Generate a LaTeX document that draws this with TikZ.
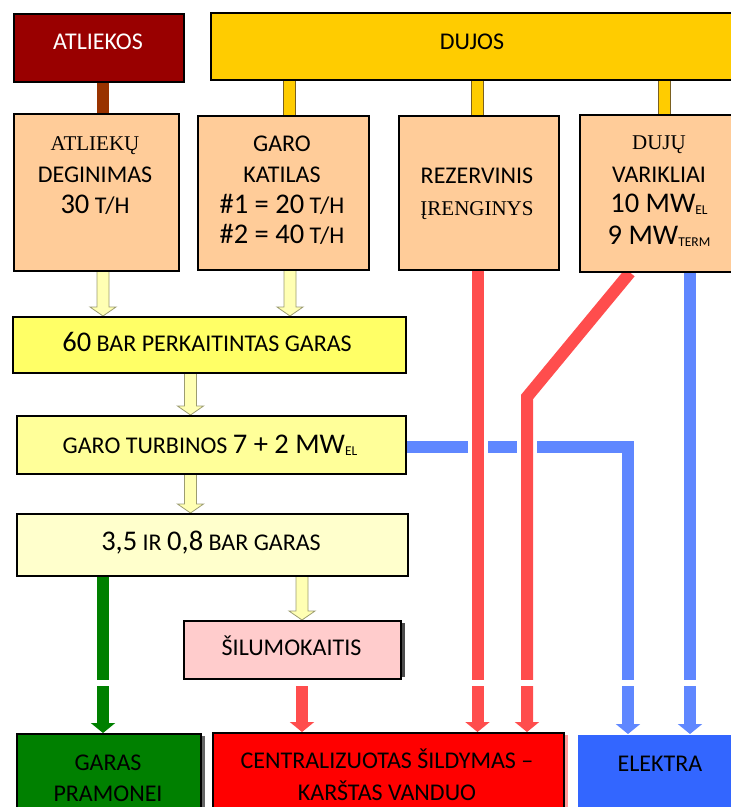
\documentclass[tikz,border=0pt]{standalone}
\usepackage{fontspec}
\setmainfont{Carlito}
\newfontfamily\serifw{Liberation Serif}
\usetikzlibrary{arrows.meta,calc}
\pgfdeclarelayer{bg}
\pgfsetlayers{bg,main}
\definecolor{atlred}{HTML}{990000}
\definecolor{brownc}{HTML}{993300}
\definecolor{gold}{HTML}{FFCC00}
\definecolor{goldedge}{HTML}{7A6020}
\definecolor{peach}{HTML}{FFCC99}
\definecolor{yelA}{HTML}{FFFF66}
\definecolor{yelB}{HTML}{FFFF99}
\definecolor{yelC}{HTML}{FFFFCC}
\definecolor{pinkc}{HTML}{FFCCCC}
\definecolor{arrfill}{HTML}{FFFFB3}
\definecolor{arrline}{HTML}{9C9C70}
\definecolor{flowred}{HTML}{FF4D4D}
\definecolor{flowblue}{HTML}{5F87FF}
\definecolor{flowgreen}{HTML}{008000}
\definecolor{boxgreen}{HTML}{008000}
\definecolor{boxred}{HTML}{FF0000}
\definecolor{boxblue}{HTML}{3366FF}
\newcommand\dgt[1]{{\fontsize{28.5}{31}\selectfont #1}}
\newcommand\lowsub[1]{\raisebox{-2pt}{\fontsize{13.5}{13.5}\selectfont #1}}
\newcommand\srfw[1]{{\serifw\fontsize{21}{31}\selectfont #1}}
\newcommand\blkarrow[3]{\draw[yarr] let \p1=(#2), \p2=(#3) in
  ({#1pt-6pt},{\y1}) -- ({#1pt-6pt},{\y2+9pt}) -- ({#1pt-13pt},{\y2+9pt}) -- ({#1pt},{\y2})
  -- ({#1pt+13pt},{\y2+9pt}) -- ({#1pt+6pt},{\y2+9pt}) -- ({#1pt+6pt},{\y1}) -- cycle;}
\begin{document}
\begin{tikzpicture}[x=1pt,y=-1pt,
  box/.style={draw=black, line width=1.5pt, inner sep=0pt, anchor=north west},
  txt/.style={anchor=base, inner sep=0pt, text=black, font=\fontsize{24}{31}\selectfont},
  yarr/.style={fill=arrfill, draw=arrline, line width=0.8pt, line join=miter},
  flow/.style={line width=12pt, line join=miter},
  ftip/.style={-{Triangle[width=24pt,length=10pt]}},
  gasbar/.style={line width=13pt, draw=goldedge},
  gasfill/.style={line width=11pt, draw=gold}]
\useasboundingbox (0,0) rectangle (731,807);

% boxes
\node[box, fill=atlred, minimum width=170pt, minimum height=68pt] (atl) at (13,13) {};
\node[box, fill=gold, minimum width=530pt, minimum height=67pt] (dujos) at (210,12) {};
\node[box, fill=peach, minimum width=165pt, minimum height=157pt] (deg) at (13,113) {};
\node[box, fill=peach, minimum width=171pt, minimum height=154pt] (kat) at (197,115) {};
\node[box, fill=peach, minimum width=160pt, minimum height=154pt] (rez) at (398,115) {};
\node[box, fill=peach, minimum width=160pt, minimum height=157pt] (var) at (579,114) {};
\node[box, fill=yelA, minimum width=393pt, minimum height=56pt] (bar) at (12,316) {};
\node[box, fill=yelB, minimum width=389pt, minimum height=58pt] (turb) at (16,415) {};
\node[box, fill=yelC, minimum width=391pt, minimum height=62pt] (gar) at (16,513) {};
\node[box, fill=pinkc, minimum width=217pt, minimum height=58pt] (silu) at (183,620) {};
\node[box, fill=boxgreen, minimum width=184pt, minimum height=90pt] (garas) at (16,733) {};
\node[box, fill=boxred, minimum width=351pt, minimum height=90pt] (centr) at (212,732) {};
\node[box, draw=none, fill=boxblue, minimum width=170pt, minimum height=90pt] (elek) at (577,734) {};

% texts
\node[txt, text=white] (atl-t) at (98,49.3) {ATLIEKOS};
\node[txt] (dujos-t) at (472,49) {DUJOS};
\node[txt] (deg-t1) at (95,150) {\srfw{ATLIEKŲ}};
\node[txt] (deg-t2) at (95,182) {DEGINIMAS};
\node[txt] (deg-t3) at (95,213) {\dgt{30} T/H};
\node[txt] (kat-t1) at (282,151) {GARO};
\node[txt] (kat-t2) at (282,182) {KATILAS};
\node[txt] (kat-t3) at (282,213) {\dgt{\#1 = 20} T/H};
\node[txt] (kat-t4) at (282,243) {\dgt{\#2 = 40} T/H};
\node[txt] (rez-t1) at (477,183) {REZERVINIS};
\node[txt] (rez-t2) at (477,215) {\srfw{ĮRENGINYS}};
\node[txt] (var-t1) at (659,149) {\srfw{DUJŲ}};
\node[txt] (var-t2) at (659,182) {VARIKLIAI};
\node[txt] (var-t3) at (659,212) {\dgt{10 MW}\lowsub{EL}};
\node[txt] (var-t4) at (659,244) {\dgt{9 MW}\lowsub{TERM}};
\node[txt] (bar-t) at (207,351) {\dgt{60} BAR PERKAITINTAS GARAS};
\node[txt] (turb-t) at (210,453) {GARO TURBINOS \dgt{7 + 2 MW}\lowsub{EL}};
\node[txt] (gar-t) at (211,550) {\dgt{3,5} IR \dgt{0,8} BAR GARAS};
\node[txt] (silu-t) at (291.5,655) {ŠILUMOKAITIS};
\node[txt] (garas-t1) at (108,770) {GARAS};
\node[txt] (garas-t2) at (108,801.7) {PRAMONEI};
\node[txt] (centr-t1) at (387,768) {CENTRALIZUOTAS ŠILDYMAS –};
\node[txt] (centr-t2) at (387,800) {KARŠTAS VANDUO};
\node[txt] (elek-t) at (660,771.7) {ELEKTRA};

% x positions of connectors
\coordinate (xbr) at (103,0);
\coordinate (xg1) at (289.5,0);
\coordinate (xg2) at (477,0);
\coordinate (xg3) at (664.5,0);
\coordinate (xgr) at (103,0);
\coordinate (xr1) at (477.5,0);
\coordinate (xr2) at (630,0);
\coordinate (r2b) at (527,397);
\coordinate (xr3) at (302,0);
\coordinate (xb1) at (628,0);
\coordinate (xb2) at (690,0);

\begin{pgfonlayer}{bg}
  % shadows
  \fill[black!70] ([yshift=-3pt]silu.north east) rectangle ([xshift=3.5pt,yshift=3pt]silu.south east);
  \fill[black!60] ([yshift=-3pt]garas.north east) rectangle ([xshift=3pt,yshift=3pt]garas.south east);
  \fill[red!40] ([yshift=-3pt]centr.north east) rectangle ([xshift=3pt,yshift=3pt]centr.south east);
  % supply bars
  \draw[line width=12pt, brownc] (xbr |- atl.south) -- (xbr |- deg.north);
  \foreach \g/\t in {xg1/kat, xg2/rez, xg3/var}{
    \draw[gasbar] (\g |- dujos.south) -- (\g |- \t.north);
    \draw[gasfill] (\g |- dujos.south) -- (\g |- \t.north);
  }
  % steam block arrows
  \blkarrow{103}{deg.south}{bar.north}
  \blkarrow{290}{kat.south}{bar.north}
  \blkarrow{190.5}{bar.south}{turb.north}
  \blkarrow{190.5}{turb.south}{gar.north}
  \blkarrow{302}{gar.south}{silu.north}
  % blue electricity
  \draw[flow, flowblue, ftip] ([yshift=-2.5pt]turb.east) -| (xb1 |- elek.north);
  \draw[flow, flowblue, ftip] (xb2 |- var.south) -- (xb2 |- elek.north);
  % white gaps where the red lines cross the blue line
  \draw[white, line width=20pt] ([yshift=12pt]xr1 |- turb.east) -- ([yshift=-17pt]xr1 |- turb.east);
  \draw[white, line width=20pt] ([yshift=12pt]r2b |- turb.east) -- ([yshift=-17pt]r2b |- turb.east);
  % red heat
  \draw[flow, flowred, ftip] (xr1 |- rez.south) -- (xr1 |- centr.north);
  \draw[flow, flowred, ftip] (xr2 |- var.south) -- (r2b) -- (r2b |- centr.north);
  \draw[flow, flowred, ftip] (xr3 |- silu.south) -- (xr3 |- centr.north);
  % green steam
  \draw[flow, flowgreen, ftip] (xgr |- gar.south) -- (xgr |- garas.north);
  % white band across the lines
  \fill[white] (0,679.5) rectangle (731,685.5);
\end{pgfonlayer}
\end{tikzpicture}
\end{document}
